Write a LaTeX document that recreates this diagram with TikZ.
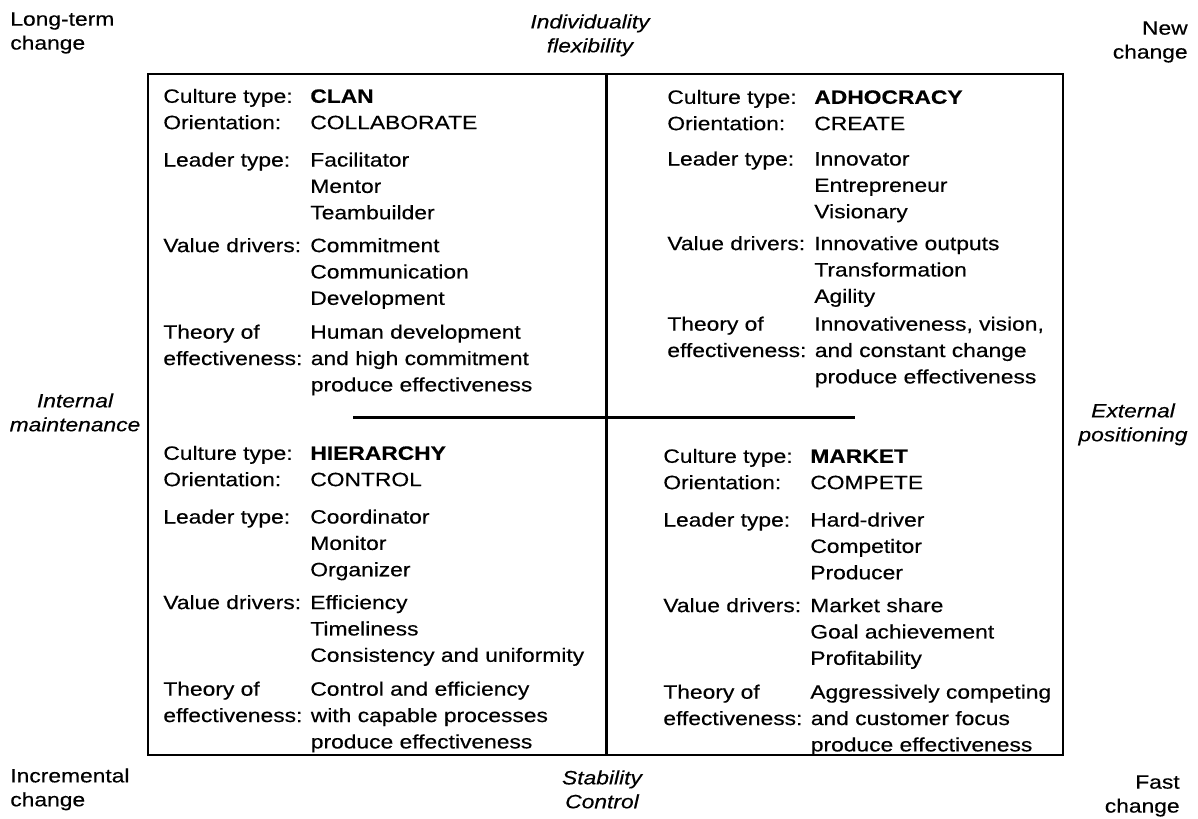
\documentclass[tikz,border=0pt]{standalone}
\usepackage{fontspec}
\setmainfont{Liberation Sans}[FakeStretch=1.18, FakeBold=0.4]
\usepackage{array}
\usetikzlibrary{positioning}

\begin{document}
\begin{tikzpicture}[
    axislabel/.style={align=center, inner sep=0pt, font=\fontsize{11}{13.6}\selectfont\itshape},
    cornerlabel/.style={inner sep=0pt, font=\fontsize{11}{13.6}\selectfont},
    quad/.style={anchor=north west, inner sep=0pt, font=\fontsize{11}{15}\selectfont},
    frame/.style={line width=1.1pt},
    divider/.style={line width=1.7pt},
  ]
  \useasboundingbox (0,0) rectangle (23.96,-16.36);

  % frame of the grid
  \coordinate (nw) at (2.96,-1.48);
  \coordinate (se) at (21.26,-15.10);
  \coordinate (top) at (12.12,-1.48);
  \coordinate (bot) at (12.12,-15.10);
  \coordinate (midl) at (7.06,-8.34);
  \coordinate (midr) at (17.10,-8.34);
  \draw[frame] (nw) rectangle (se);
  \draw[divider] (top) -- (bot);
  \draw[divider] (midl) -- (midr);

  % the four culture types
  \node[quad] (clan) at (3.26,-1.68) {%
    \begin{tabular}{@{}p{2.94cm}@{}l@{}}
      Culture type: & \textbf{CLAN}\\
      Orientation: & COLLABORATE\\[0.22cm]
      Leader type: & Facilitator\\
       & Mentor\\
       & Teambuilder\\[0.13cm]
      Value drivers: & Commitment\\
       & Communication\\
       & Development\\[0.15cm]
      Theory of & Human development\\
      \multicolumn{2}{@{}l@{}}{effectiveness: and high commitment}\\
      \multicolumn{2}{@{}l@{}}{\hphantom{effectiveness: }produce effectiveness}
    \end{tabular}};

  \node[quad] (adhoc) at (13.34,-1.70) {%
    \begin{tabular}{@{}p{2.94cm}@{}l@{}}
      Culture type: & \textbf{ADHOCRACY}\\
      Orientation: & CREATE\\[0.18cm]
      Leader type: & Innovator\\
       & Entrepreneur\\
       & Visionary\\[0.11cm]
      Value drivers: & Innovative outputs\\
       & Transformation\\
       & Agility\\[0.03cm]
      Theory of & Innovativeness, vision,\\
      \multicolumn{2}{@{}l@{}}{effectiveness: and constant change}\\
      \multicolumn{2}{@{}l@{}}{\hphantom{effectiveness: }produce effectiveness}
    \end{tabular}};

  \node[quad] (hier) at (3.26,-8.82) {%
    \begin{tabular}{@{}p{2.94cm}@{}l@{}}
      Culture type: & \textbf{HIERARCHY}\\
      Orientation: & CONTROL\\[0.22cm]
      Leader type: & Coordinator\\
       & Monitor\\
       & Organizer\\[0.13cm]
      Value drivers: & Efficiency\\
       & Timeliness\\
       & Consistency and uniformity\\[0.15cm]
      Theory of & Control and efficiency\\
      \multicolumn{2}{@{}l@{}}{effectiveness: with capable processes}\\
      \multicolumn{2}{@{}l@{}}{\hphantom{effectiveness: }produce effectiveness}
    \end{tabular}};

  \node[quad] (market) at (13.26,-8.88) {%
    \begin{tabular}{@{}p{2.94cm}@{}l@{}}
      Culture type: & \textbf{MARKET}\\
      Orientation: & COMPETE\\[0.22cm]
      Leader type: & Hard-driver\\
       & Competitor\\
       & Producer\\[0.13cm]
      Value drivers: & Market share\\
       & Goal achievement\\
       & Profitability\\[0.15cm]
      Theory of & Aggressively competing\\
      \multicolumn{2}{@{}l@{}}{effectiveness: and customer focus}\\
      \multicolumn{2}{@{}l@{}}{\hphantom{effectiveness: }produce effectiveness}
    \end{tabular}};

  % axis and corner labels
  \node[axislabel, anchor=north] (flex) at (11.80,-0.28) {Individuality\\flexibility};
  \node[axislabel, anchor=north] (stab) at (12.04,-15.40) {Stability\\Control};
  \node[axislabel, anchor=north] (intern) at (1.50,-7.86) {Internal\\maintenance};
  \node[axislabel, anchor=north] (extern) at (22.66,-8.06) {External\\positioning};

  \node[cornerlabel, anchor=north west, align=left] (longterm) at (0.20,-0.24) {Long-term\\change};
  \node[cornerlabel, anchor=north east, align=right] (newch) at (23.76,-0.42) {New\\change};
  \node[cornerlabel, anchor=north west, align=left] (incr) at (0.20,-15.36) {Incremental\\change};
  \node[cornerlabel, anchor=north east, align=right] (fast) at (23.60,-15.50) {Fast\\change};
\end{tikzpicture}
\end{document}
